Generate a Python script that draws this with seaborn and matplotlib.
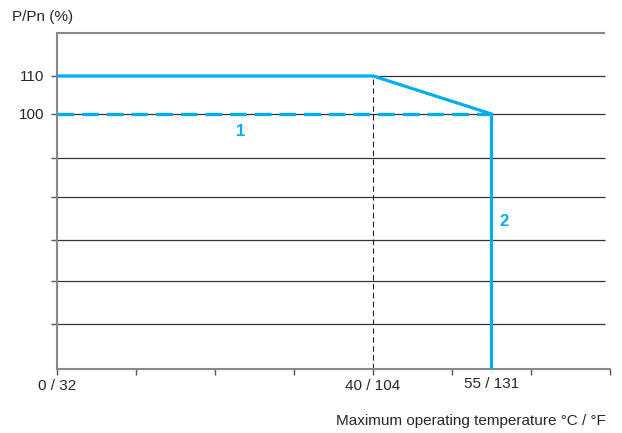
import matplotlib
matplotlib.use('Agg')
import matplotlib.pyplot as plt
import seaborn as sns
import pandas as pd

# Derating curve (curve 2) and continuous rating (curve 1)
temp_c = [0, 40, 55, 55]
power_pct = [110, 110, 100, 33]
cont_temp = [0, 55]
cont_power = [100, 100]

# Axis ticks / labels
x_ticks = [0, 10, 20, 30, 40, 50, 60, 70]
x_labels = ['0 / 32', '', '', '', '40 / 104', '', '', '']
x_extra_tick = 55
x_extra_label = '55 / 131'
y_grid = [110, 100, 88.4, 78.2, 66.8, 56.1, 44.7]
y_labels = ['110', '100', '', '', '', '', '']
knee_temp = 40

BLUE = '#00adef'
FS = 11

sns.set_theme(style='white')
plt.rcParams['font.family'] = ['Liberation Sans', 'DejaVu Sans']

fig = plt.figure(figsize=(6.22, 4.33), dpi=100)
ax = fig.add_axes([57 / 622, 1 - 369 / 433, 553 / 622, 336 / 433])

ax.set_xlim(0, 70)
ax.set_ylim(32.9, 121.3)

# grid lines + top border
ax.hlines(y_grid, 0, 69.4, color='#333333', lw=0.9, zorder=1)
ax.hlines([121.3], 0, 69.4, color='#888888', lw=1.5, zorder=1, clip_on=False)
ax.vlines([knee_temp], 32.9, 110, color='#222222', lw=0.8,
          linestyles=(0, (5, 3)), zorder=2)

df_full = pd.DataFrame({'t': temp_c, 'p': power_pct})
df_cont = pd.DataFrame({'t': cont_temp, 'p': cont_power})
sns.lineplot(data=df_full, x='t', y='p', sort=False, estimator=None,
             color=BLUE, lw=2.3, ax=ax, zorder=4)
sns.lineplot(data=df_cont, x='t', y='p', sort=False, estimator=None,
             color=BLUE, lw=2.4, ax=ax, zorder=3, linestyle=(0, (5, 2.4)))

ax.text(23.2, 95.5, '1', color=BLUE, fontsize=12, fontweight='bold',
        ha='center', va='center')
ax.text(56.6, 71.8, '2', color=BLUE, fontsize=12, fontweight='bold',
        ha='center', va='center')

for s in ['top', 'right']:
    ax.spines[s].set_visible(False)
for s in ['left', 'bottom']:
    ax.spines[s].set_color('#888888')
    ax.spines[s].set_linewidth(1.5)

ax.set_xticks(x_ticks)
ax.set_xticklabels(x_labels)
ax.set_xticks([x_extra_tick], minor=True)
ax.set_xticklabels([x_extra_label], minor=True)
ax.tick_params(axis='x', which='major', bottom=True, direction='out',
               length=4, width=1, color='#555555', labelsize=FS, pad=3)
ax.tick_params(axis='x', which='minor', bottom=True, length=0,
               labelsize=FS, pad=6)
ax.set_yticks(y_grid)
ax.set_yticklabels(y_labels)
ax.tick_params(axis='y', left=True, direction='out', length=4, width=1,
               color='#555555', labelsize=FS, pad=5)

ax.set_xlabel('')
ax.set_ylabel('')
fig.text(12 / 622, 1 - 17 / 433, 'P/Pn (%)', fontsize=FS, ha='left', va='center')
fig.text(606 / 622, 1 - 421 / 433, 'Maximum operating temperature °C / °F',
         fontsize=FS, ha='right', va='center')

fig.savefig('out.png', dpi=100)
